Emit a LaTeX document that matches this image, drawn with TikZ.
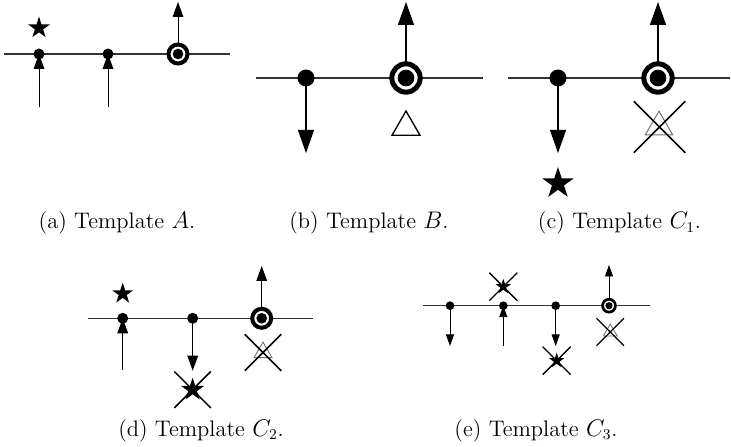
\documentclass[tikz,border=0pt]{standalone}
\usetikzlibrary{arrows.meta,shapes.geometric,shapes.misc,backgrounds}
\begin{document}
\begin{tikzpicture}[x=0.6pt,y=-0.6pt,
  hlA/.style={line width=0.65pt,black!80},
  hlB/.style={line width=0.8pt,black!80},
  hlE/.style={line width=0.6pt,black!80},
  arrA/.style={line width=0.6pt,-{Triangle[length=9pt,width=6.4pt]}},
  arrB/.style={line width=0.75pt,-{Triangle[length=13.8pt,width=9.6pt]}},
  arrE/.style={line width=0.55pt,-{Triangle[length=6.9pt,width=4.8pt]}},
  dotA/.style={circle,fill=black,inner sep=0pt,minimum size=6.6pt},
  dotB/.style={circle,fill=black,inner sep=0pt,minimum size=10.2pt},
  dotE/.style={circle,fill=black,inner sep=0pt,minimum size=5.2pt},
  dcA/.style={circle,draw=black,fill=white,line width=2.4pt,inner sep=0pt,minimum size=11.4pt,
    path picture={\fill[black] (path picture bounding box.center) circle (3.2pt);}},
  dcB/.style={circle,draw=black,fill=white,line width=3pt,inner sep=0pt,minimum size=17pt,
    path picture={\fill[black] (path picture bounding box.center) circle (5pt);}},
  dcE/.style={circle,draw=black,fill=white,line width=1.62pt,inner sep=0pt,minimum size=7.74pt,
    path picture={\fill[black] (path picture bounding box.center) circle (2.16pt);}},
  starbox/.style={star,star points=5,star point ratio=2.618,fill=black,inner sep=0pt,minimum size=#1},
  tribox/.style={regular polygon,regular polygon sides=3,draw=#1,inner sep=0pt},
  xbox/.style={cross out,draw=black,inner sep=0pt,minimum size=#1},
  capbox/.style={anchor=base,inner sep=0pt,font=\fontsize{13.5}{16}\selectfont}
]
\useasboundingbox (0,0) rectangle (731,447);

% ---------- (a) ----------
\coordinate (aL) at (4,54);
\coordinate (aR) at (230,54);
\node[dotA] (a1) at (39,54) {};
\node[dotA] (a2) at (108,54) {};
\node[dcA] (a3) at (178,54) {};
\node[starbox=13.6pt] (a4) at (39,28) {};
\coordinate (a1s) at (39,107);
\coordinate (a2s) at (108,107);
\coordinate (a3e) at (178,2);

% ---------- (b) ----------
\coordinate (bL) at (256,78);
\coordinate (bR) at (483,78);
\node[dotB] (b1) at (306,78) {};
\node[dcB] (b2) at (406,78) {};
\node[tribox=black,line width=0.8pt,minimum size=19.4pt] (b3) at (406,127.2) {};
\coordinate (b1e) at (306,153);
\coordinate (b2e) at (406,2);

% ---------- (c) ----------
\coordinate (cL) at (508,78);
\coordinate (cR) at (730,78);
\node[dotB] (c1) at (558,78) {};
\node[dcB] (c2) at (658,78) {};
\node[starbox=19.8pt] (c3) at (558,183.5) {};
\node[tribox=black!55,line width=0.6pt,minimum size=19pt] (c4) at (659,127) {};
\node[xbox=30pt,line width=0.9pt] (c5) at (659.5,127) {};
\coordinate (c1e) at (558,153);
\coordinate (c2e) at (658,2);

% ---------- (d) ----------
\coordinate (dL) at (88,318.3);
\coordinate (dR) at (313,318.3);
\node[dotA] (d1) at (122.7,318.3) {};
\node[dotA] (d2) at (192.7,318.3) {};
\node[dcA] (d3) at (261.7,318.3) {};
\node[starbox=13.2pt] (d4) at (122.7,293.7) {};
\node[starbox=14.4pt] (d5) at (192.6,389.7) {};
\node[xbox=21pt,line width=0.9pt] (d5x) at (192.6,389.7) {};
\node[tribox=black!55,line width=0.55pt,minimum size=12.5pt] (d6) at (263,352.5) {};
\node[xbox=21pt,line width=0.9pt] (d6x) at (263,352.5) {};
\coordinate (d1s) at (122.7,370);
\coordinate (d2e) at (192.7,370.7);
\coordinate (d3e) at (261.7,266);

% ---------- (e) ----------
\coordinate (eL) at (423.3,305.7);
\coordinate (eR) at (650,305.7);
\node[dotE] (e1) at (450,305.7) {};
\node[dotE] (e2) at (503.3,305.7) {};
\node[dotE] (e3) at (555.7,305.7) {};
\node[dcE] (e4) at (609,305.7) {};
\node[starbox=9.6pt] (e5) at (503.3,286.7) {};
\node[xbox=16pt,line width=0.8pt] (e5x) at (503.3,286.7) {};
\node[starbox=9.6pt] (e6) at (556.7,360.7) {};
\node[xbox=16pt,line width=0.8pt] (e6x) at (556.7,360.7) {};
\node[tribox=black!55,line width=0.5pt,minimum size=9.6pt] (e7) at (610.3,332) {};
\node[xbox=15.6pt,line width=0.8pt] (e7x) at (610.3,332) {};
\coordinate (e1e) at (450,346);
\coordinate (e2s) at (503.3,346);
\coordinate (e3e) at (555.7,346);
\coordinate (e4e) at (609,265);

% ---------- captions ----------
\node[capbox] (capa) at (117,229) {(a) Template $A$.};
\node[capbox] (capb) at (369,229) {(b) Template $B$.};
\node[capbox] (capc) at (619.5,229) {(c) Template $C_1$.};
\node[capbox] (capd) at (201,436) {(d) Template $C_2$.};
\node[capbox] (cape) at (536,436) {(e) Template $C_3$.};

% ---------- connectors (behind the nodes) ----------
\begin{scope}[on background layer]
  \draw[hlA] (aL) -- (aR);
  \draw[arrA] (a1s) -- (a1.center);
  \draw[arrA] (a2s) -- (a2.center);
  \draw[arrA] (a3.center) -- (a3e);

  \draw[hlB] (bL) -- (bR);
  \draw[arrB] (b1.center) -- (b1e);
  \draw[arrB] (b2.center) -- (b2e);

  \draw[hlB] (cL) -- (cR);
  \draw[arrB] (c1.center) -- (c1e);
  \draw[arrB] (c2.center) -- (c2e);

  \draw[hlA] (dL) -- (dR);
  \draw[arrA] (d1s) -- (d1.center);
  \draw[arrA] (d2.center) -- (d2e);
  \draw[arrA] (d3.center) -- (d3e);

  \draw[hlE] (eL) -- (eR);
  \draw[arrE] (e1.center) -- (e1e);
  \draw[arrE] (e2s) -- (e2.center);
  \draw[arrE] (e3.center) -- (e3e);
  \draw[arrE] (e4.center) -- (e4e);
\end{scope}
\end{tikzpicture}
\end{document}
